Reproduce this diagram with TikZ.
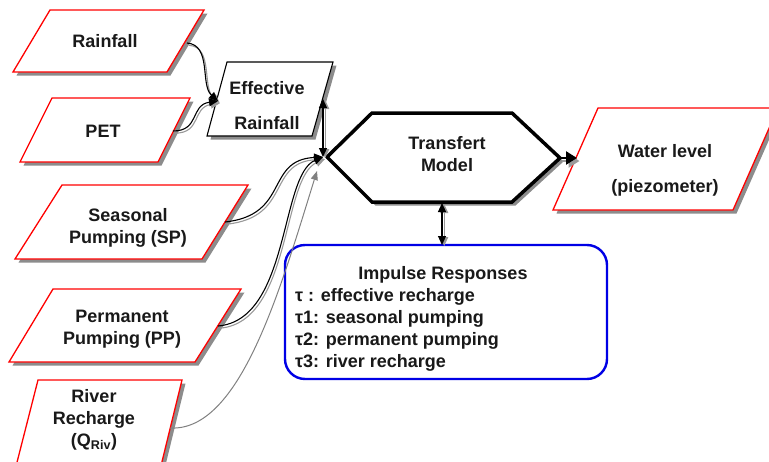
\documentclass[tikz,border=0pt]{standalone}
\usepackage{fontspec}
\setmainfont{Liberation Sans}
\usetikzlibrary{arrows.meta,shadows}
\begin{document}
\begin{tikzpicture}[x=1pt,y=-1pt,
  shad/.style={drop shadow={shadow xshift=3.5pt,shadow yshift=-3.5pt,fill=black!45,opacity=1}},
  inbox/.style={draw=red,line width=1.3pt,fill=white,shad},
  effbox/.style={draw=black,line width=1.1pt,fill=white,shad},
  hexbox/.style={draw=black,line width=3.5pt,line join=miter,fill=white,shad},
  irbox/.style={draw=blue!90!black,line width=2.4pt,fill=white,rounded corners=20pt},
  lbl/.style={font=\bfseries\fontsize{18}{22}\selectfont,align=center,inner sep=0pt,text=black!90},
  tip/.style={-{Triangle[length=9pt,width=8pt]}},
  conn/.style={line width=1.1pt,tip,
     preaction={draw=black!40,line width=1.1pt,tip,transform canvas={shift={(1.8pt,-2.2pt)}}}},
  dconn/.style={line width=1.1pt,{Triangle[length=9pt,width=8pt]}-{Triangle[length=9pt,width=8pt]},
     preaction={draw=black!40,line width=1.1pt,{Triangle[length=9pt,width=8pt]}-{Triangle[length=9pt,width=8pt]},transform canvas={shift={(2.2pt,-1pt)}}}},
  gconn/.style={draw=black!50,line width=1pt,-{Triangle[length=9pt,width=7pt]}},
  bigconn/.style={line width=2.5pt,-{Triangle[length=11pt,width=13pt]},
     preaction={draw=black!40,line width=2.5pt,-{Triangle[length=11pt,width=13pt]},transform canvas={shift={(2.5pt,-3pt)}}}}
]
\path[use as bounding box] (0,0) rectangle (769,461);

% input parallelograms
\path[inbox] (50,10) -- (204,10) -- (167,72) -- (13,72) -- cycle;
\path[inbox] (52,98) -- (190,98) -- (158,162) -- (20,162) -- cycle;
\path[inbox] (62,185) -- (248,185) -- (202,259) -- (15,259) -- cycle;
\path[inbox] (53,289) -- (241,289) -- (195,362) -- (9,362) -- cycle;
\path[inbox] (38,380) -- (182,380) -- (158,478) -- (13,478) -- cycle;
% effective rainfall
\path[effbox] (227,62) -- (333,62) -- (312,136) -- (207,136) -- cycle;
% transfert model hexagon
\path[hexbox] (327,157) -- (372,113) -- (512,113) -- (560,158) -- (512,202) -- (372,202) -- cycle;
% water level
\path[inbox] (598,108) -- (778,108) -- (733,210) -- (553,210) -- cycle;
% impulse responses
\path[irbox] (285,245) rectangle (607,379);

% labels
\node[lbl] (rain) at (105,41) {Rainfall};
\node[lbl] (pet) at (103,131) {PET};
\node[lbl] (eff) at (267,105.5) {Effective\\[13pt]Rainfall};
\node[lbl] (sp) at (128,228) {Seasonal\\Pumping (SP)};
\node[lbl] (pp) at (122,329) {Permanent\\Pumping (PP)};
\node[lbl] (riv) at (94,420) {River\\Recharge\\(Q\textsubscript{Riv})};
\node[lbl] (tm) at (447,154.5) {Transfert\\Model};
\node[lbl] (wl) at (665,170.5) {Water level\\[13pt](piezometer)};
\node[lbl] (irt) at (443,275) {Impulse Responses};
\node[lbl,align=left,anchor=west] (irl) at (295,330) {τ : effective recharge\\τ1: seasonal pumping\\τ2: permanent pumping\\τ3: river recharge};

% connector end points
\coordinate (rainOut) at (187,43);
\coordinate (petOut) at (173,131);
\coordinate (effIn) at (218,101);
\coordinate (effOut) at (323,99);
\coordinate (hexL) at (323,157);
\coordinate (spOut) at (225,222);
\coordinate (ppOut) at (218,326);
\coordinate (rivOut) at (170,428);
\coordinate (rivIn) at (317,171);
\coordinate (hexR) at (559,158);
\coordinate (wlIn) at (577,158);
\coordinate (hexB) at (442,203);
\coordinate (irT) at (442,245);

% connectors
\draw[conn] (rainOut) .. controls (212,45) and (200,85) .. (effIn);
\draw[conn] (petOut) .. controls (200,131) and (190,105) .. (effIn);
\draw[conn] (spOut) .. controls (290,215) and (265,160) .. (hexL);
\draw[conn] (ppOut) .. controls (290,320) and (280,175) .. (hexL);
\draw[gconn] (rivOut) .. controls (240,432) and (280,290) .. (rivIn);
\draw[dconn] (effOut) -- (hexL);
\draw[dconn] (hexB) -- (irT);
\draw[bigconn] (hexR) -- (wlIn);
\end{tikzpicture}
\end{document}
